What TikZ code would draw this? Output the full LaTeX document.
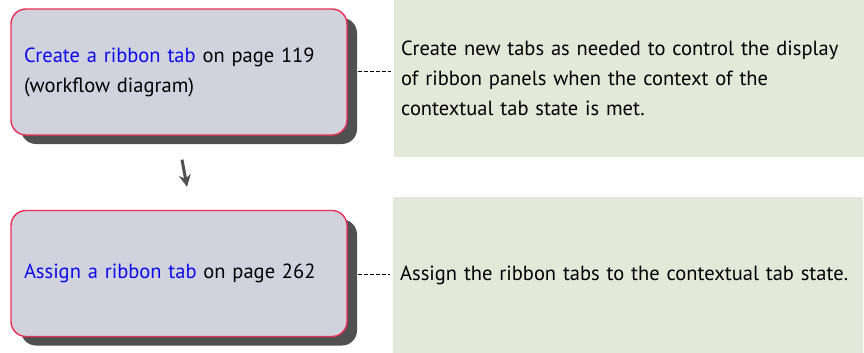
\documentclass[tikz,border=0pt]{standalone}
\usepackage{fontspec}
\setmainfont{PT Sans}
\usetikzlibrary{shadows,arrows.meta}
\definecolor{boxfill}{RGB}{210,210,222}
\definecolor{boxedge}{RGB}{232,48,84}
\definecolor{shadowgray}{RGB}{80,80,80}
\definecolor{notefill}{RGB}{228,232,216}
\definecolor{linkblue}{RGB}{10,10,235}
\begin{document}
\begin{tikzpicture}[x=1pt,y=-1pt,
    every node/.style={font=\fontsize{20.5}{30}\selectfont},
    taskbox/.style={draw=boxedge, line width=1.4pt, fill=boxfill, rounded corners=15pt,
      minimum width=336pt, minimum height=126pt, text width=310pt, inner xsep=13pt,
      align=left, drop shadow={shadow xshift=10pt, shadow yshift=-9pt, fill=shadowgray, opacity=1}},
    notebox/.style={fill=notefill, inner xsep=7pt, text width=456pt, align=left, anchor=north west},
    leader/.style={dash pattern=on 4pt off 2pt, line width=0.8pt, shorten >=3pt}]
  \useasboundingbox (0,0) rectangle (864,353);
  \node[notebox, minimum height=157pt] (note1) at (394,0) {Create new tabs as needed to control the display\\ of ribbon panels when the context of the\\ contextual tab state is met.};
  \node[notebox, minimum height=156pt] (note2) at (393,197) {Assign the ribbon tabs to the contextual tab state.};
  \node[taskbox] (task1) at (179,72) {{\color{linkblue}Create a ribbon tab} on page 119\\ (workflow diagram)};
  \node[taskbox] (task2) at (179,273.5) {{\color{linkblue}Assign a ribbon tab} on page 262};
  \draw[leader] ([xshift=10pt,yshift=1pt]task1.east) -- ([yshift=1pt]task1.east -| note1.west);
  \draw[leader] ([xshift=10pt,yshift=-1pt]task2.east) -- ([yshift=-1pt]task2.east -| note2.west);
  \draw[-{Stealth[length=12pt,width=12pt]}, line width=3pt, shadowgray] ([xshift=3pt,yshift=-24pt]task1.south) -- ([xshift=8pt,yshift=23pt]task2.north);
\end{tikzpicture}
\end{document}
